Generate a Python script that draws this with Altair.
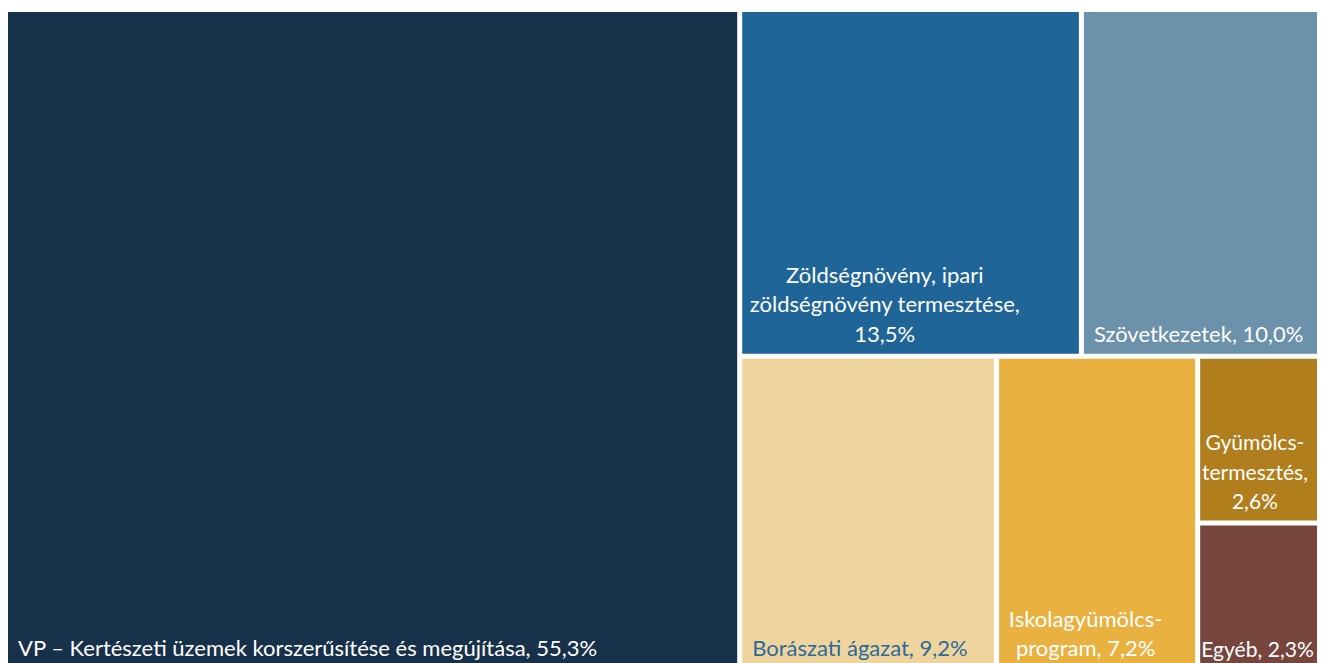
import altair as alt
import pandas as pd

# ---- data ----
labels = [
    "VP – Kertészeti üzemek korszerűsítése és megújítása, 55,3%",
    "Zöldségnövény, ipari\nzöldségnövény termesztése,\n13,5%",
    "Szövetkezetek, 10,0%",
    "Borászati ágazat, 9,2%",
    "Iskolagyümölcs-\nprogram, 7,2%",
    "Gyümölcs-\ntermesztés,\n2,6%",
    "Egyéb, 2,3%",
]
shares = [55.3, 13.5, 10.0, 9.2, 7.2, 2.6, 2.3]
colors = ["#18314a", "#1f6597", "#6b91ab", "#f0d49e", "#e9b140", "#b07e1d", "#76463e"]
text_colors = ["#ffffff", "#ffffff", "#ffffff", "#2a6a9c", "#ffffff", "#ffffff", "#ffffff"]

# ---- layout (squarified treemap) ----
GAP = 5.0
TW, TH = 1329.0, 661.0
LINE_H = 29.5
FONT_SIZE = 22
CHAR_W = 10.2       # average advance of the label font at FONT_SIZE (estimate)
CHAR_W_MAX = 10.7   # safe upper estimate, used to keep labels inside the visible area
PAD = 10.0
VIEW_W, VIEW_H = 1309.0, 651.0


def worst(row, w):
    s = sum(row)
    return max(max(w * w * r / (s * s), s * s / (w * w * r)) for r in row)


def squarify(areas, x, y, dx, dy):
    rects = []
    areas = list(areas)
    while areas:
        w = min(dx, dy)
        row = [areas[0]]
        i = 1
        while i < len(areas) and worst(row + [areas[i]], w) <= worst(row, w):
            row.append(areas[i])
            i += 1
        areas = areas[i:]
        s = sum(row)
        if dx >= dy:
            cw = s / dy
            yy = y
            for a in row:
                h = a / cw
                rects.append((x, yy, x + cw, yy + h))
                yy += h
            x += cw
            dx -= cw
        else:
            rh = s / dx
            xx = x
            for a in row:
                ww = a / rh
                rects.append((xx, y, xx + ww, y + rh))
                xx += ww
            y += rh
            dy -= rh
    return rects


total = sum(shares)
areas = [v / total * TW * TH for v in shares]
rects = squarify(areas, 0.0, 0.0, TW, TH)

view_right = GAP / 2 + VIEW_W
rows = []
for i, (x0, y0, x1, y1) in enumerate(rects):
    vx0, vy0, vx1, vy1 = x0 + GAP / 2, y0 + GAP / 2, x1 - GAP / 2, y1 - GAP / 2
    lines = labels[i].split("\n")
    n_chars = max(len(l) for l in lines)
    vis_right = min(vx1, view_right)
    avail = vis_right - vx0
    shrink = min(1.0, (avail - 4) / (n_chars * CHAR_W_MAX))
    fs = FONT_SIZE * shrink
    est_w = n_chars * CHAR_W * shrink
    # label block sits at the bottom-left of the cell, kept inside the visible area
    block_left = max(vx0 + 1, min(vx0 + PAD, vis_right - 3 - est_w * 1.05))
    if len(lines) == 1:
        align, tx = "left", block_left
    else:
        align, tx = "center", block_left + est_w / 2
    rows.append(dict(
        name=labels[i], share=shares[i], order=i,
        x0=vx0, x1=vx1, y0=vy0, y1=vy1,
        tx=tx, ty=vy1 - 7 - (len(lines) - 1) * LINE_H, fs=fs,
        fill=colors[i], tcol=text_colors[i], align=align,
    ))
df = pd.DataFrame(rows)

xs = alt.Scale(domain=[GAP / 2, GAP / 2 + VIEW_W], nice=False, zero=False)
ys = alt.Scale(domain=[GAP / 2, GAP / 2 + VIEW_H], nice=False, zero=False, reverse=True)

base = alt.Chart(df)

cells = base.mark_rect(strokeWidth=0, clip=True).encode(
    x=alt.X("x0:Q", scale=xs, axis=None),
    x2="x1:Q",
    y=alt.Y("y0:Q", scale=ys, axis=None),
    y2="y1:Q",
    color=alt.Color("fill:N", scale=None, legend=None),
)

text_common = dict(font="Lato", lineHeight=LINE_H, baseline="bottom",
                   lineBreak="\n", clip=True)


def label_layer(align):
    return base.transform_filter(alt.datum.align == align).mark_text(align=align, **text_common).encode(
        x=alt.X("tx:Q", scale=xs, axis=None),
        y=alt.Y("ty:Q", scale=ys, axis=None),
        text="name:N",
        size=alt.Size("fs:Q", scale=None, legend=None),
        color=alt.Color("tcol:N", scale=None, legend=None),
    )


chart = alt.layer(cells, label_layer("left"), label_layer("center")).properties(
    width=VIEW_W,
    height=VIEW_H,
    padding={"left": 0, "top": 4, "right": 0, "bottom": 0},
    autosize=alt.AutoSizeParams(type="none"),
    background="#ffffff",
).configure_view(stroke=None)

chart.save("out.html", embed_options={"renderer": "svg", "actions": False})
